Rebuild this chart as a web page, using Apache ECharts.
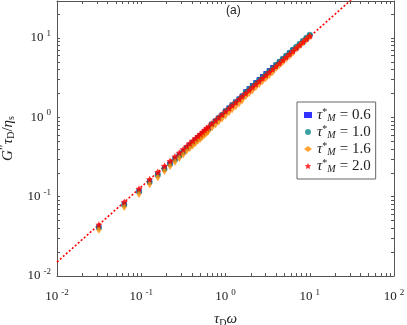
<!DOCTYPE html>
<html>
<head>
<meta charset="utf-8">
<script src="https://cdn.jsdelivr.net/npm/echarts@6/dist/echarts.min.js"></script>
<style>
  html,body{margin:0;padding:0;background:#fff;}
  #chart{width:407px;height:325px;}
</style>
</head>
<body>
<div id="chart"></div>
<script>
// tau_D * omega
var xs = [0.0314, 0.0628, 0.0942, 0.1257, 0.1571, 0.1885, 0.2199, 0.2513, 0.2827, 0.3142,
  0.3456, 0.3770, 0.4084, 0.4398, 0.4712, 0.5027, 0.5341, 0.5655, 0.5969, 0.6283,
  0.69, 0.76, 0.83, 0.91, 1.0, 1.10, 1.20, 1.32, 1.45, 1.58,
  1.74, 1.91, 2.09, 2.29, 2.51, 2.75, 3.02, 3.31, 3.63, 3.98,
  4.37, 4.79, 5.25, 5.75, 6.31, 6.92, 7.59, 8.32, 9.12, 10.0]

// G'' tau_D / eta_s
var y06 = [0.0413, 0.0799, 0.117, 0.154, 0.191, 0.227, 0.262, 0.299, 0.333, 0.368,
  0.412, 0.447, 0.483, 0.518, 0.553, 0.588, 0.623, 0.657, 0.693, 0.727,
  0.821, 0.897, 0.979, 1.068, 1.202, 1.312, 1.432, 1.562, 1.706, 1.861,
  2.113, 2.306, 2.516, 2.747, 2.998, 3.272, 3.571, 3.897, 4.254, 4.554,
  4.971, 5.425, 5.920, 6.462, 7.052, 7.548, 8.238, 8.991, 9.813, 10.71]
var y10 = [0.0408, 0.0790, 0.116, 0.153, 0.189, 0.224, 0.259, 0.295, 0.329, 0.364,
  0.408, 0.443, 0.478, 0.512, 0.547, 0.582, 0.617, 0.650, 0.685, 0.719,
  0.821, 0.897, 0.979, 1.068, 1.190, 1.299, 1.418, 1.547, 1.689, 1.843,
  2.072, 2.262, 2.468, 2.694, 2.941, 3.209, 3.503, 3.822, 4.173, 4.598,
  5.019, 5.478, 5.978, 6.525, 7.121, 7.772, 8.482, 9.258, 10.10, 11.02]
var y16 = [0.0382, 0.0739, 0.108, 0.143, 0.176, 0.210, 0.243, 0.276, 0.308, 0.341,
  0.378, 0.410, 0.442, 0.474, 0.506, 0.539, 0.571, 0.602, 0.634, 0.666,
  0.746, 0.814, 0.889, 0.970, 1.059, 1.156, 1.262, 1.377, 1.503, 1.640,
  1.851, 2.020, 2.204, 2.407, 2.627, 2.867, 3.129, 3.414, 3.727, 4.200,
  4.585, 5.004, 5.461, 5.960, 6.505, 7.324, 7.993, 8.724, 9.522, 10.39]
var y20 = [0.0444, 0.0859, 0.126, 0.166, 0.205, 0.244, 0.282, 0.321, 0.358, 0.396,
  0.434, 0.471, 0.508, 0.545, 0.582, 0.619, 0.656, 0.692, 0.729, 0.765,
  0.838, 0.915, 0.999, 1.090, 1.190, 1.299, 1.418, 1.547, 1.689, 1.843,
  2.012, 2.196, 2.396, 2.616, 2.855, 3.116, 3.401, 3.711, 4.051, 4.421,
  4.826, 5.267, 5.748, 6.274, 6.847, 7.473, 8.156, 8.902, 9.716, 10.60]

// dotted reference line (end points)
var lineX = [0.01, 100]
var lineY = [0.0150, 92.0]

var tauNames = ['0.6', '1.0', '1.6', '2.0']
var xMajor = [0.01, 0.1, 1, 10, 100]
var yMajor = [0.01, 0.1, 1, 10]

var X_MIN = 0.01, X_MAX = 100, Y_MIN = 0.01, Y_MAX = 29.3

function minorTicks(lo, hi){
  var out = []
  for (var e = -2; e <= 2; e++) {
    for (var k = 1; k <= 9; k++) {
      var v = k * Math.pow(10, e)
      if (v >= lo * 0.999 && v <= hi * 1.001) out.push(v)
    }
  }
  return out
}

function pairs(a, b){
  var out = []
  for (var i = 0; i < a.length; i++) out.push([a[i], b[i]])
  return out
}

var serif = 'Liberation Serif'
var axisCol = '#555'

var expRich = {
  b: {fontFamily: serif, fontSize: 13, color: '#222', lineHeight: 18},
  e: {fontFamily: serif, fontSize: 9, color: '#222', verticalAlign: 'top', padding: [0, 0, 0, 3], lineHeight: 18}
}
function expLabel(v){
  return '{b|10}{e|' + Math.round(Math.log10(v)) + '}'
}

var star = 'path://M0,-10L2.9,-4L9.5,-3.1L4.8,1.5L5.9,8.1L0,5L-5.9,8.1L-4.8,1.5L-9.5,-3.1L-2.9,-4Z'

var myChart = echarts.init(document.getElementById('chart'))

var baseAxis = function (extra) {
  var o = {
    type: 'log',
    logBase: 10,
    axisLine: {show: true, lineStyle: {color: axisCol, width: 1}},
    splitLine: {show: false},
    minorTick: {show: false}
  }
  for (var k in extra) o[k] = extra[k]
  return o
}

var option = {
  backgroundColor: '#fff',
  animation: false,
  grid: {left: 57, right: 13, top: 1, bottom: 49, outerBoundsMode: 'none'},
  xAxis: [
    baseAxis({
      min: X_MIN, max: X_MAX, position: 'bottom',
      axisTick: {show: true, inside: true, length: 3, lineStyle: {color: axisCol}, customValues: minorTicks(X_MIN, X_MAX)},
      axisLabel: {customValues: xMajor, formatter: expLabel, rich: expRich, margin: 12},
      name: '{t|τ}{d|D}{w|ω}',
      nameLocation: 'middle',
      nameGap: 34,
      nameTextStyle: {
        rich: {
          t: {fontFamily: serif, fontStyle: 'italic', fontSize: 15, color: '#222', lineHeight: 18},
          d: {fontFamily: serif, fontSize: 10, color: '#222', verticalAlign: 'bottom', lineHeight: 18},
          w: {fontFamily: serif, fontStyle: 'italic', fontSize: 15, color: '#222', lineHeight: 18}
        }
      }
    }),
    baseAxis({
      min: X_MIN, max: X_MAX, position: 'top',
      axisTick: {show: true, inside: true, length: 3, lineStyle: {color: axisCol}, customValues: minorTicks(X_MIN, X_MAX)},
      axisLabel: {show: false}
    })
  ],
  yAxis: [
    baseAxis({
      min: Y_MIN, max: Y_MAX, position: 'left',
      axisTick: {show: true, inside: true, length: 3, lineStyle: {color: axisCol}, customValues: minorTicks(Y_MIN, Y_MAX)},
      axisLabel: {customValues: yMajor, formatter: expLabel, rich: expRich, margin: 6},
      name: '{g|G}{p|\u2033}{t|τ}{d|D}{n|/}{h|η}{s|s}',
      nameLocation: 'middle',
      nameGap: 38,
      nameTextStyle: {
        rich: {
          g: {fontFamily: serif, fontStyle: 'italic', fontSize: 15, color: '#222', lineHeight: 18},
          p: {fontFamily: serif, fontSize: 14, color: '#222', verticalAlign: 'top', lineHeight: 18},
          t: {fontFamily: serif, fontStyle: 'italic', fontSize: 15, color: '#222', lineHeight: 18},
          d: {fontFamily: serif, fontSize: 10, color: '#222', verticalAlign: 'bottom', lineHeight: 18},
          n: {fontFamily: serif, fontSize: 15, color: '#222', lineHeight: 18},
          h: {fontFamily: serif, fontStyle: 'italic', fontSize: 15, color: '#222', lineHeight: 18},
          s: {fontFamily: serif, fontSize: 10, color: '#222', verticalAlign: 'bottom', lineHeight: 18}
        }
      }
    }),
    baseAxis({
      min: Y_MIN, max: Y_MAX, position: 'right',
      axisTick: {show: true, inside: true, length: 3, lineStyle: {color: axisCol}, customValues: minorTicks(Y_MIN, Y_MAX)},
      axisLabel: {show: false}
    })
  ],
  legend: {
    data: tauNames,
    orient: 'vertical',
    left: 297,
    top: 102,
    padding: [5, 5, 5, 7],
    itemGap: 1,
    itemWidth: 8,
    itemHeight: 6,
    backgroundColor: '#fff',
    borderColor: '#666',
    borderWidth: 1,
    borderRadius: 0,
    formatter: function (name) {
      return '{t|τ}{a|*}{m|M}{v|= ' + name + '}'
    },
    textStyle: {
      rich: {
        t: {fontFamily: serif, fontStyle: 'italic', fontSize: 15, color: '#222', lineHeight: 16},
        a: {fontFamily: serif, fontSize: 10, color: '#222', verticalAlign: 'top', lineHeight: 16},
        m: {fontFamily: serif, fontStyle: 'italic', fontSize: 10, color: '#222', verticalAlign: 'bottom', lineHeight: 16},
        v: {fontFamily: serif, fontSize: 15, color: '#222', lineHeight: 16, padding: [0, 0, 0, 4]}
      }
    }
  },
  graphic: [{
    type: 'text',
    left: 226,
    top: 5,
    style: {text: '(a)', font: '12px "Liberation Sans"', fill: '#222'}
  }],
  series: [
    {
      name: 'fit',
      type: 'line',
      data: pairs(lineX, lineY),
      symbol: 'none',
      lineStyle: {color: '#ff0000', width: 1.6, type: [2, 2]},
      clip: true,
      z: 1
    },
    {
      name: '0.6', type: 'scatter', data: pairs(xs, y06),
      symbol: 'rect', symbolSize: 5,
      itemStyle: {color: '#0000ff'}, z: 2
    },
    {
      name: '1.0', type: 'scatter', data: pairs(xs, y10),
      symbol: 'circle', symbolSize: 6,
      itemStyle: {color: '#0e8a8a'}, z: 3
    },
    {
      name: '1.6', type: 'scatter', data: pairs(xs, y16),
      symbol: 'diamond', symbolSize: [5, 8],
      itemStyle: {color: '#ff8c00'}, z: 4
    },
    {
      name: '2.0', type: 'scatter', data: pairs(xs, y20),
      symbol: star, symbolSize: 7,
      itemStyle: {color: '#ff0000'}, z: 5
    }
  ]
}

myChart.setOption(option, true)
</script>
</body>
</html>
